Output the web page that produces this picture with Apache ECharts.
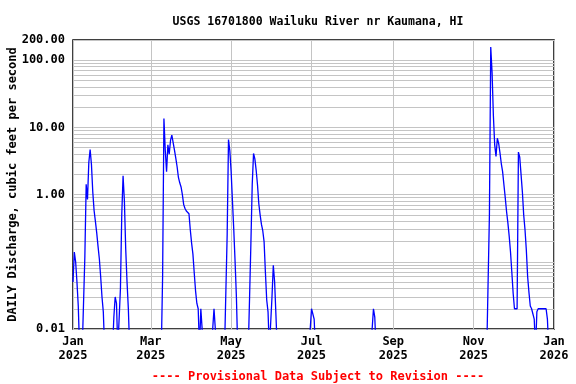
<!DOCTYPE html>
<html>
<head>
<meta charset="utf-8">
<script src="https://cdn.jsdelivr.net/npm/echarts@6/dist/echarts.min.js"></script>
<style>html,body{margin:0;padding:0;background:#fff;}#c{width:576px;height:384px;}</style>
</head>
<body>
<div id="c"></div>
<script>
// Daily discharge (cfs), 2025, one array per month; 0 = no flow
const jan = [0.05,0.14,0.1,0.05,0.022,0,0,0,0,0.12,1.42,0.85,3.0,4.7,2.8,1.1,0.58,0.4,0.27,0.17,0.11,0.06,0.03,0.018,0,0,0,0,0,0,0];
const feb = [0.015,0.03,0.024,0,0,0.04,0.5,1.9,0.8,0.155,0.05,0.02,0,0,0,0,0,0,0,0,0,0,0,0,0,0,0,0];
const mar = [0,0,0,0,0,0,0,0,0,0.06,13.6,4.6,2.2,5.5,4.0,6.4,7.7,7.2,4.6,3.5,2.6,1.8,1.5,1.3,1.0,0.71,0.62,0.57,0.56,0.52,0.3];
const apr = [0.19,0.13,0.068,0.037,0.024,0.02,0,0.02,0.02,0,0,0,0,0,0,0,0,0.02,0.02,0,0,0,0,0,0,0,0,0.26,6.6,4.5];
const may = [2.2,0.8,0.3,0.1,0.03,0,0,0,0,0,0,0,0,0,0.03,0.19,1.4,4.1,3.4,2.3,1.4,0.73,0.5,0.36,0.29,0.2,0.07,0.027,0.018,0,0];
const jun = [0.03,0.089,0.05,0.016,0,0,0,0,0,0,0,0,0,0,0,0,0,0,0,0,0,0,0,0,0,0,0,0,0,0];
const jul = [0.02,0.02,0.014,0,0,0,0,0,0,0,0,0,0,0,0,0,0,0,0,0,0,0,0,0,0,0,0,0,0,0,0];
const aug = [0,0,0,0,0,0,0,0,0,0,0,0,0,0,0,0,0.02,0.015,0,0,0,0,0,0,0,0,0,0,0,0,0];
const sep = [0,0,0,0,0,0,0,0,0,0,0,0,0,0,0,0,0,0,0,0,0,0,0,0,0,0,0,0,0,0];
const oct = [0,0,0,0,0,0,0,0,0,0,0,0,0,0,0,0,0,0,0,0,0,0,0,0,0,0,0,0,0,0,0];
const nov = [0,0,0,0,0,0,0,0,0,0,0,0,0.51,157,66,15,5.5,3.7,6.9,5.8,4.2,2.9,2.2,1.4,0.9,0.56,0.38,0.24,0.14,0.07];
const dec = [0.034,0.02,0.02,0.02,4.3,3.6,2.0,1.1,0.5,0.3,0.15,0.06,0.035,0.022,0.02,0.02,0.014,0,0.018,0.02,0.02,0.02,0.02,0.02,0.02,0.02,0.014,0,0,0,0];

const tickDates = ['2025-01-01','2025-03-01','2025-05-01','2025-07-01','2025-09-01','2025-11-01','2026-01-01'];
const tickLabels = ['Jan\n2025','Mar\n2025','May\n2025','Jul\n2025','Sep\n2025','Nov\n2025','Jan\n2026'];
const yTickLabels = ['0.01','1.00','10.00','100.00','200.00'];

const titleText = 'USGS 16701800 Wailuku River nr Kaumana, HI';
const footText = '---- Provisional Data Subject to Revision ----';
const yName = 'DAILY Discharge, cubic feet per second';

// categories: every day from 2025-01-01 to 2026-01-01
const days = [];
for (let t = Date.UTC(2025,0,1); t <= Date.UTC(2026,0,1); t += 86400000) {
  days.push(new Date(t).toISOString().slice(0,10));
}
const values = [].concat(jan,feb,mar,apr,may,jun,jul,aug,sep,oct,nov,dec);
const FLOOR = 0.005; // zero flow drawn below the axis floor (clipped)
const seriesData = values.map(v => v > 0 ? v : FLOOR);

const FONT = 'DejaVu Sans Mono';
const isTick = (i) => tickDates.indexOf(days[i]) >= 0;

const chart = echarts.init(document.getElementById('c'), null, {renderer:'canvas'});
chart.setOption({
  animation: false,
  backgroundColor: '#ffffff',
  title: [
    {text: titleText, left: 313, top: 11, textAlign: 'center',
     textStyle: {fontFamily: FONT, fontSize: 11.5, fontWeight: 'bold', color: '#000'}},
    {text: footText, left: 313, top: 366, textAlign: 'center',
     textStyle: {fontFamily: FONT, fontSize: 12, fontWeight: 'bold', color: '#ff0000'}}
  ],
  grid: {left: 73, right: 22, top: 40, bottom: 55, show: true, borderColor: '#000', borderWidth: 1.5,
         containLabel: false, outerBoundsMode: 'none'},
  xAxis: {
    type: 'category', data: days, boundaryGap: false,
    axisLine: {show: false}, axisTick: {show: false},
    axisLabel: {
      interval: (i) => isTick(i),
      formatter: (v) => { const k = tickDates.indexOf(v); return k >= 0 ? tickLabels[k] : ''; },
      fontFamily: FONT, fontSize: 12, fontWeight: 'bold', color: '#000', lineHeight: 14, margin: 6
    },
    splitLine: {show: true, interval: (i) => isTick(i), lineStyle: {color: '#c4c4c4', width: 1}}
  },
  yAxis: {
    type: 'log', logBase: 10, min: 0.01, max: 200,
    name: yName, nameLocation: 'middle', nameGap: 54, nameMoveOverlap: false,
    nameTextStyle: {fontFamily: FONT, fontSize: 12, fontWeight: 'bold', color: '#000'},
    axisLine: {show: false}, axisTick: {show: false},
    axisLabel: {
      formatter: (v) => { const s = (+v).toFixed(2); return yTickLabels.indexOf(s) >= 0 ? s : ''; },
      fontFamily: FONT, fontSize: 12, fontWeight: 'bold', color: '#000', margin: 8
    },
    splitLine: {show: true, lineStyle: {color: '#c4c4c4', width: 1}},
    minorTick: {show: false, splitNumber: 9},
    minorSplitLine: {show: true, lineStyle: {color: '#c4c4c4', width: 1}}
  },
  series: [{
    type: 'line', data: seriesData, showSymbol: false, symbol: 'none', clip: true,
    lineStyle: {color: '#0000ff', width: 1.3}, itemStyle: {color: '#0000ff'}, z: 3
  }]
});
</script>
</body>
</html>
